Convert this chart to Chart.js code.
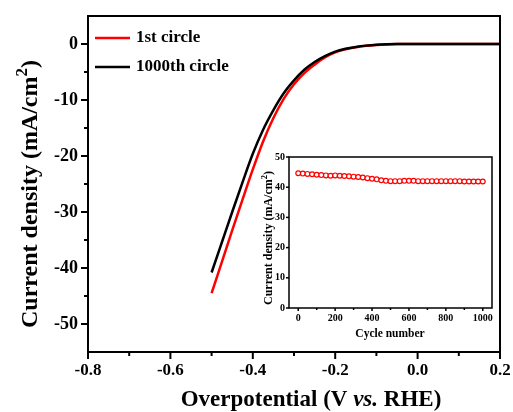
<!DOCTYPE html>
<html>
<head>
<meta charset="utf-8">
<script src="https://cdn.jsdelivr.net/npm/chart.js@4.4.1/dist/chart.umd.min.js"></script>
<style>
  body { margin:0; background:#fff; }
  #wrap { position:relative; width:513px; height:412px; }
  #main { position:absolute; left:0; top:0; }
  #inset { position:absolute; left:250px; top:145px; }
</style>
</head>
<body>
<div id="wrap">
  <canvas id="main" width="513" height="412"></canvas>
  <canvas id="inset" width="255" height="200"></canvas>
</div>
<script>
// main LSV curves (V vs RHE, mA/cm2)
var potential = [-0.5, -0.475, -0.45, -0.425, -0.4, -0.375, -0.35, -0.325, -0.3, -0.275, -0.25, -0.225,
                 -0.2, -0.175, -0.15, -0.125, -0.1, -0.075, -0.05, 0, 0.1, 0.2];
var firstCircle = [-44.5, -38.9, -33.3, -27.8, -22.4, -17.4, -13.2, -9.8, -7.2, -5.2, -3.7, -2.4,
                   -1.5, -0.95, -0.58, -0.32, -0.16, -0.07, -0.02, 0, 0, 0];
var thousandthCircle = [-40.8, -35.4, -30.0, -24.7, -19.6, -15.3, -11.8, -8.8, -6.5, -4.6, -3.2, -2.15,
                        -1.35, -0.85, -0.52, -0.29, -0.14, -0.06, -0.02, 0, 0, 0];

var xTicks = [-0.8, -0.6, -0.4, -0.2, 0, 0.2];
var xMinor = [-0.7, -0.5, -0.3, -0.1, 0.1];
var yTicks = [-50, -40, -30, -20, -10, 0];
var yMinor = [-45, -35, -25, -15, -5];

// inset: stability
var cycles = [0, 25, 50, 75, 100, 125, 150, 175, 200, 225, 250, 275, 300, 325, 350, 375, 400, 425, 450, 475,
              500, 525, 550, 575, 600, 625, 650, 675, 700, 725, 750, 775, 800, 825, 850, 875, 900, 925, 950, 975, 1000];
var density = [44.6, 44.5, 44.4, 44.3, 44.1, 44.0, 43.9, 43.8, 43.9, 43.8, 43.7, 43.6, 43.5, 43.4, 43.2, 43.0,
               42.8, 42.6, 42.3, 42.1, 42.0, 42.0, 42.0, 42.1, 42.1, 42.1, 42.0, 42.0, 42.0, 42.0, 42.0, 42.0,
               42.0, 42.0, 42.0, 42.0, 41.9, 41.9, 41.9, 41.9, 41.9];
var cycleTicks = [0, 200, 400, 600, 800, 1000];
var cycleMinor = [100, 300, 500, 700, 900];
var densTicks = [0, 10, 20, 30, 40, 50];

var serif = '"Liberation Serif", "Times New Roman", serif';

function pts(xs, ys) {
  return xs.map(function(v, i) { return { x: v, y: ys[i] }; });
}

function seg(ctx, x1, y1, x2, y2) {
  ctx.beginPath(); ctx.moveTo(x1, y1); ctx.lineTo(x2, y2); ctx.stroke();
}

// draws a run of [text, font, dy] parts centred on 0
function drawParts(ctx, parts, baseY) {
  var w = 0;
  parts.forEach(function(p) { ctx.font = p[1]; w += ctx.measureText(p[0]).width; });
  var x = -w / 2;
  ctx.textAlign = 'left';
  ctx.textBaseline = 'alphabetic';
  parts.forEach(function(p) {
    ctx.font = p[1];
    ctx.fillText(p[0], x, baseY + (p[2] || 0));
    x += ctx.measureText(p[0]).width;
  });
}

var mainDecor = {
  id: 'mainDecor',
  afterDraw: function(chart) {
    var ctx = chart.ctx, a = chart.chartArea, x = chart.scales.x, y = chart.scales.y;
    ctx.save();
    ctx.strokeStyle = '#000';
    ctx.lineWidth = 2;
    ctx.strokeRect(a.left, a.top, a.right - a.left, a.bottom - a.top);
    xTicks.forEach(function(v) { var p = x.getPixelForValue(v); seg(ctx, p, a.bottom, p, a.bottom + 7); });
    xMinor.forEach(function(v) { var p = x.getPixelForValue(v); seg(ctx, p, a.bottom, p, a.bottom + 4); });
    yTicks.forEach(function(v) { var p = y.getPixelForValue(v); seg(ctx, a.left - 7, p, a.left, p); });
    yMinor.forEach(function(v) { var p = y.getPixelForValue(v); seg(ctx, a.left - 4, p, a.left, p); });

    // legend
    var rows = [[chart.data.datasets[0], 38], [chart.data.datasets[1], 67]];
    rows.forEach(function(r) {
      ctx.strokeStyle = r[0].borderColor;
      ctx.lineWidth = 2.5;
      seg(ctx, 95, r[1], 130, r[1]);
      ctx.fillStyle = '#000';
      ctx.font = 'bold 17px ' + serif;
      ctx.textAlign = 'left';
      ctx.textBaseline = 'middle';
      ctx.fillText(r[0].label, 136, r[1]);
    });

    // axis titles
    ctx.fillStyle = '#000';
    ctx.save();
    ctx.translate(311, 0);
    drawParts(ctx, [['Overpotential (V ', 'bold 23px ' + serif], ['vs.', 'italic bold 23px ' + serif],
                    [' RHE)', 'bold 23px ' + serif]], 406);
    ctx.restore();
    ctx.save();
    ctx.translate(37, 194);
    ctx.rotate(-Math.PI / 2);
    drawParts(ctx, [['Current density (mA/cm', 'bold 24px ' + serif], ['2', 'bold 17px ' + serif, -10],
                    [')', 'bold 24px ' + serif]], 0);
    ctx.restore();
    ctx.restore();
  }
};

new Chart(document.getElementById('main'), {
  type: 'line',
  data: {
    datasets: [
      { label: '1st circle', data: pts(potential, firstCircle), borderColor: '#ff0000', borderWidth: 2.5,
        pointRadius: 0, cubicInterpolationMode: 'monotone', order: 2 },
      { label: '1000th circle', data: pts(potential, thousandthCircle), borderColor: '#000000', borderWidth: 2.5,
        pointRadius: 0, cubicInterpolationMode: 'monotone', order: 1 }
    ]
  },
  options: {
    responsive: false,
    animation: false,
    devicePixelRatio: 1,
    layout: { padding: { top: 16, right: 13, left: 0, bottom: 0 } },
    plugins: { legend: { display: false }, tooltip: { enabled: false } },
    scales: {
      x: {
        type: 'linear', min: -0.8, max: 0.2,
        afterBuildTicks: function(s) { s.ticks = xTicks.map(function(v) { return { value: v }; }); },
        afterFit: function(s) { s.height = 60; },
        grid: { display: false, drawTicks: true, tickLength: 8 },
        border: { display: false },
        ticks: { padding: 0, color: '#000', maxRotation: 0, font: { family: serif, size: 17, weight: 'bold' },
                 callback: function(v) { return v.toFixed(1); } }
      },
      y: {
        type: 'linear', min: -55, max: 5,
        afterBuildTicks: function(s) { s.ticks = yTicks.map(function(v) { return { value: v }; }); },
        afterFit: function(s) { s.width = 88; },
        grid: { display: false, drawTicks: true, tickLength: 10 },
        border: { display: false },
        ticks: { padding: 0, color: '#000', font: { family: serif, size: 18, weight: 'bold' },
                 callback: function(v) { return String(v); } }
      }
    }
  },
  plugins: [mainDecor]
});

var insetDecor = {
  id: 'insetDecor',
  afterDraw: function(chart) {
    var ctx = chart.ctx, a = chart.chartArea, x = chart.scales.x, y = chart.scales.y;
    ctx.save();
    ctx.strokeStyle = '#000';
    ctx.lineWidth = 1.5;
    ctx.strokeRect(a.left, a.top, a.right - a.left, a.bottom - a.top);
    cycleTicks.forEach(function(v) { var p = x.getPixelForValue(v); seg(ctx, p, a.bottom, p, a.bottom + 3); });
    cycleMinor.forEach(function(v) { var p = x.getPixelForValue(v); seg(ctx, p, a.bottom, p, a.bottom + 2); });
    densTicks.forEach(function(v) { var p = y.getPixelForValue(v); seg(ctx, a.left - 3, p, a.left, p); });

    ctx.fillStyle = '#000';
    ctx.save();
    ctx.translate(140, 0);
    drawParts(ctx, [['Cycle number', 'bold 11.5px ' + serif]], 192);
    ctx.restore();
    ctx.save();
    ctx.translate(22, 93);
    ctx.rotate(-Math.PI / 2);
    drawParts(ctx, [['Current density (mA/cm', 'bold 12px ' + serif], ['2', 'bold 8.5px ' + serif, -5],
                    [')', 'bold 12px ' + serif]], 0);
    ctx.restore();
    ctx.restore();
  }
};

new Chart(document.getElementById('inset'), {
  type: 'scatter',
  data: {
    datasets: [
      { label: 'stability', data: pts(cycles, density), borderColor: '#ff0000', backgroundColor: '#ffffff',
        borderWidth: 1.2, pointRadius: 2.4, showLine: false }
    ]
  },
  options: {
    responsive: false,
    animation: false,
    devicePixelRatio: 1,
    layout: { padding: { top: 12, right: 13, left: 0, bottom: 0 } },
    plugins: { legend: { display: false }, tooltip: { enabled: false } },
    scales: {
      x: {
        type: 'linear', min: -50, max: 1050,
        afterBuildTicks: function(s) { s.ticks = cycleTicks.map(function(v) { return { value: v }; }); },
        afterFit: function(s) { s.height = 37; },
        grid: { display: false, drawTicks: true, tickLength: 4 },
        border: { display: false },
        ticks: { padding: 0, color: '#000', maxRotation: 0, font: { family: serif, size: 10, weight: 'bold' },
                 callback: function(v) { return String(v); } }
      },
      y: {
        type: 'linear', min: 0, max: 50,
        afterBuildTicks: function(s) { s.ticks = densTicks.map(function(v) { return { value: v }; }); },
        afterFit: function(s) { s.width = 39; },
        grid: { display: false, drawTicks: true, tickLength: 4 },
        border: { display: false },
        ticks: { padding: 0, color: '#000', font: { family: serif, size: 10, weight: 'bold' },
                 callback: function(v) { return String(v); } }
      }
    }
  },
  plugins: [insetDecor]
});
</script>
</body>
</html>
